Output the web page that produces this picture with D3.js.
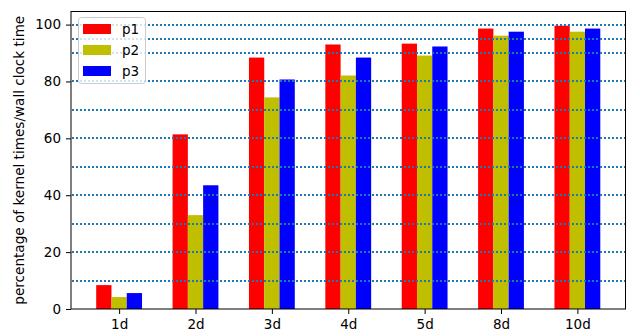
<!DOCTYPE html>
<html lang="en">
<head>
<meta charset="UTF-8">
<title>kernel time chart</title>
<style>
  body { margin: 0; background: #fff; }
  text { font-family: "DejaVu Sans", sans-serif; }
</style>
</head>
<body>
<script src="https://d3js.org/d3.v7.min.js"></script>
<script>
// categories and the three series (percent)
const days = ['1d', '2d', '3d', '4d', '5d', '8d', '10d'];
const p1 = [8.4, 61.4, 88.4, 93.0, 93.3, 98.6, 99.6];
const p2 = [4.2, 33.0, 74.4, 82.1, 89.1, 96.1, 97.5];
const p3 = [5.6, 43.5, 80.7, 88.4, 92.3, 97.5, 98.6];
const seriesNames = ['p1', 'p2', 'p3'];
const yTicks = [0, 20, 40, 60, 80, 100];
const gridLevels = [10, 20, 30, 40, 50, 60, 70, 80, 90, 95, 100];

const colors = ['#ff0000', '#bfbf00', '#0000ff'];
const series = [p1, p2, p3];

const W = 640, H = 336;
const mLeft = 71, mRight = 625.5, mTop = 11.5, mBottom = 309;

const svg = d3.select('body').append('svg').attr('width', W).attr('height', H);

// index scale like matplotlib: bars of width 0.2 at i-0.2, i, i+0.2
const x = d3.scaleLinear().domain([-0.63, days.length - 1 + 0.63]).range([mLeft, mRight]);
const y = d3.scaleLinear().domain([0, 104.6]).range([mBottom, mTop]);
const bw = 0.2;

series.forEach((s, k) => {
    svg.selectAll('.bar' + k)
        .data(s)
        .enter().append('rect')
        .attr('class', 'bar' + k)
        .attr('x', (d, i) => x(i + (k - 1) * bw - bw / 2))
        .attr('width', x(bw) - x(0))
        .attr('y', d => y(d))
        .attr('height', d => y(0) - y(d))
        .style('fill', colors[k]);
});

// dotted horizontal lines (snapped to whole pixels so the dots stay crisp)
svg.selectAll('.grid')
    .data(gridLevels)
    .enter().append('line')
    .attr('class', 'grid')
    .attr('x1', mLeft + 1).attr('x2', mRight)
    .attr('y1', d => Math.round(y(d))).attr('y2', d => Math.round(y(d)))
    .style('stroke', '#1f77b4')
    .style('stroke-width', 2)
    .style('stroke-dasharray', '2,2');

// axes
const xAxis = d3.axisBottom(x).tickValues(d3.range(days.length)).tickFormat(i => days[i])
    .tickSizeOuter(0).tickSize(5).tickPadding(5);
const yAxis = d3.axisLeft(y).tickValues(yTicks).tickSizeOuter(0).tickSize(5).tickPadding(5);

const gx = svg.append('g').attr('transform', `translate(0,${mBottom})`).call(xAxis);
const gy = svg.append('g').attr('transform', `translate(${mLeft},0)`).call(yAxis);
[gx, gy].forEach(g => {
    g.select('.domain').remove();
    g.selectAll('text').style('font-size', '13.5px').style('fill', '#000');
    g.selectAll('line').style('stroke', '#000').style('stroke-width', 1);
});

// frame
svg.append('rect')
    .attr('x', mLeft).attr('y', mTop)
    .attr('width', mRight - mLeft).attr('height', mBottom - mTop)
    .style('fill', 'none').style('stroke', '#000').style('stroke-width', 1);

// y label
svg.append('text')
    .attr('transform', `translate(23.5,${(mTop + mBottom) / 2}) rotate(-90)`)
    .attr('text-anchor', 'middle')
    .style('font-size', '13.6px')
    .text('percentage of kernel times/wall clock time');

// legend
const lg = svg.append('g');
lg.append('rect')
    .attr('x', 78.5).attr('y', 17.5).attr('width', 67).attr('height', 66)
    .attr('rx', 3)
    .style('fill', 'rgba(255,255,255,0.8)')
    .style('stroke', '#cccccc');
seriesNames.forEach((n, k) => {
    const cy = 29 + k * 21;
    lg.append('rect')
        .attr('x', 83).attr('y', cy - 5).attr('width', 28).attr('height', 10)
        .style('fill', colors[k]);
    lg.append('text')
        .attr('x', 122).attr('y', cy + 5)
        .style('font-size', '13.5px')
        .text(n);
});
</script>
</body>
</html>
